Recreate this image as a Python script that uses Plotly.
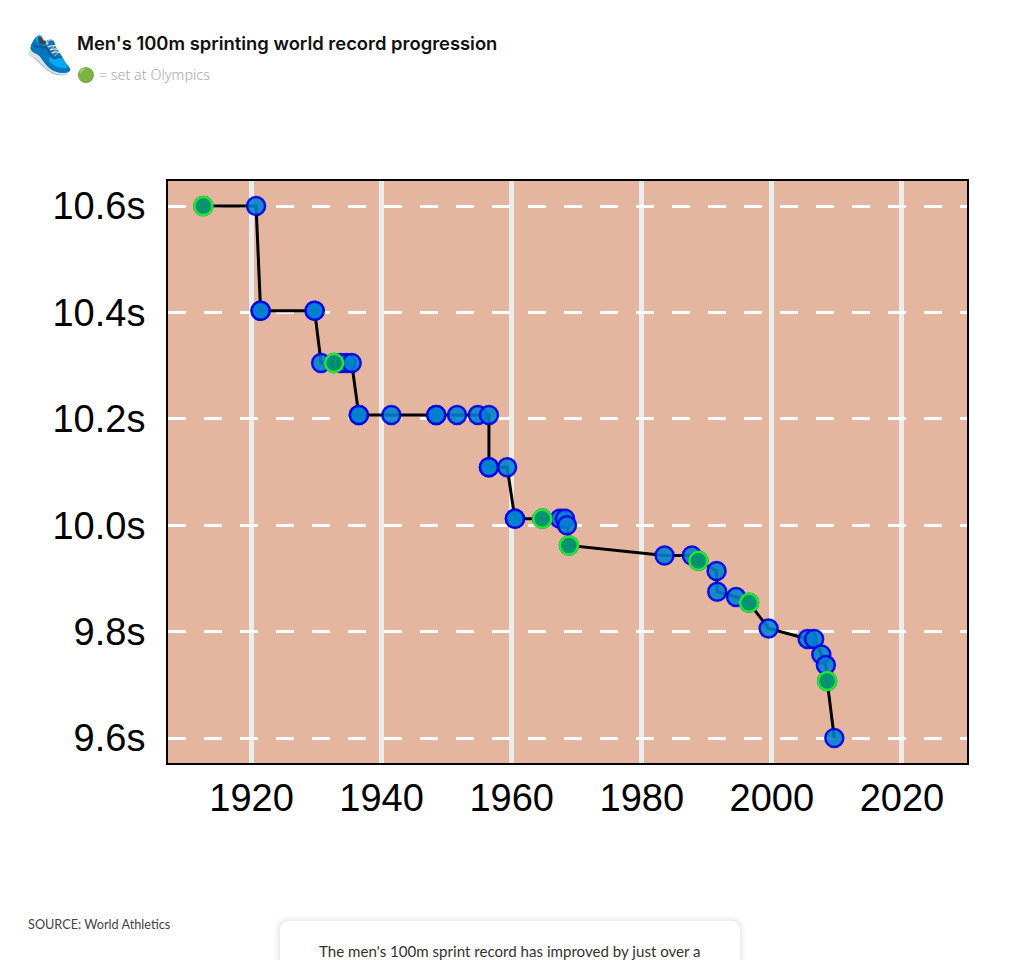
import plotly.graph_objects as go

years = [1912.6, 1920.7, 1921.4, 1921.4, 1929.7, 1929.7, 1930.7, 1932.7, 1933.7, 1934.6, 1935.4, 1936.5, 1936.5, 1941.5,
         1948.4, 1948.4, 1951.6, 1954.8, 1956.5, 1956.5, 1956.5, 1959.3, 1960.5, 1960.5, 1964.7, 1967.4, 1968.2, 1968.5,
         1968.8, 1983.5, 1987.7, 1988.7, 1991.5, 1991.6, 1994.5, 1996.5, 1999.5, 2005.5, 2006.5,
         2007.6, 2008.3, 2008.5, 2009.6]
times = [10.6, 10.6, 10.403, 10.403, 10.403, 10.403, 10.305, 10.305, 10.305, 10.305, 10.305, 10.207, 10.207, 10.207,
         10.207, 10.207, 10.207, 10.207, 10.207, 10.109, 10.109, 10.109, 10.012, 10.012, 10.012, 10.012, 10.012, 10.0,
         9.962, 9.943, 9.943, 9.933, 9.914, 9.875, 9.865, 9.854, 9.806, 9.786, 9.786,
         9.757, 9.737, 9.707, 9.6]
olympic_years = [1912.6, 1932.7, 1964.7, 1968.8, 1988.7, 1996.5, 2008.5]
x_ticks = [1920, 1940, 1960, 1980, 2000, 2020]
y_ticks = [9.6, 9.8, 10.0, 10.2, 10.4, 10.6]
y_labels = ["9.6s", "9.8s", "10.0s", "10.2s", "10.4s", "10.6s"]

olympic_x = [y for y in years if y in olympic_years]
olympic_y = [t for y, t in zip(years, times) if y in olympic_years]

L, R, T, B = 168, 967, 181, 763


def px(x):
    return (x - L) / (R - L)


def py(y):
    return (B - y) / (B - T)


def rounded(x0, y0, x1, y1, r):
    return (f"M {px(x0 + r)} {py(y0)} L {px(x1 - r)} {py(y0)} "
            f"Q {px(x1)} {py(y0)} {px(x1)} {py(y0 + r)} L {px(x1)} {py(y1 - r)} "
            f"Q {px(x1)} {py(y1)} {px(x1 - r)} {py(y1)} L {px(x0 + r)} {py(y1)} "
            f"Q {px(x0)} {py(y1)} {px(x0)} {py(y1 - r)} L {px(x0)} {py(y0 + r)} "
            f"Q {px(x0)} {py(y0)} {px(x0 + r)} {py(y0)} Z")


fig = go.Figure()
fig.add_trace(go.Scatter(
    x=years, y=times, mode="lines+markers", cliponaxis=False, hoverinfo="skip",
    line=dict(color="#000000", width=3),
    marker=dict(size=18, color="rgba(0,128,208,0.88)", line=dict(color="rgba(0,0,230,0.9)", width=2.5)),
))
fig.add_trace(go.Scatter(
    x=olympic_x, y=olympic_y, mode="markers", cliponaxis=False, hoverinfo="skip",
    marker=dict(size=18, color="rgba(5,150,100,0.88)", line=dict(color="#20ea2a", width=2.5)),
))

shapes = []
for grow, alpha in [(6, 0.015), (4, 0.02), (2, 0.03)]:
    shapes.append(dict(type="path", xref="paper", yref="paper", layer="above",
                       path=rounded(280 - grow, 921 - grow, 740 + grow, 1000, 10 + grow),
                       fillcolor=f"rgba(0,0,0,{alpha})", line=dict(width=0)))
shapes.append(dict(type="path", xref="paper", yref="paper", layer="above",
                   path=rounded(280, 921, 740, 1000, 10),
                   fillcolor="#ffffff", line=dict(width=0)))


def note(text, x, y, size, color, family, weight=None, anchor="left", angle=0):
    return dict(text=text, x=px(x), y=py(y), xref="paper", yref="paper", showarrow=False,
                xanchor=anchor, yanchor="middle", align="left", textangle=angle,
                font=dict(size=size, color=color, family=family, weight=weight))


annotations = [
    note("👟", 55, 50, 42, "#000000", "Noto Color Emoji, Noto Sans", anchor="center", angle=25),
    note("Men's 100m sprinting world record progression", 75, 43, 18.4, "#111111", "Inter", 600),
    note("🟢 = set at Olympics", 75, 75, 14.4, "#a8a8a8", "Noto Sans", 300),
    note("SOURCE: World Athletics", 26, 924, 12.7, "#444444", "Lato"),
    note("The men's 100m sprint record has improved by just over a", 510, 951, 15.1, "#333333",
         "Lato", anchor="center"),
]

fig.update_layout(
    width=1020, height=960, showlegend=False,
    margin=dict(l=L, r=1020 - R, t=T, b=960 - B),
    paper_bgcolor="#ffffff", plot_bgcolor="#e5b69f",
    shapes=shapes, annotations=annotations,
    xaxis=dict(range=[1907.16, 2030.0], tickmode="array", tickvals=x_ticks, ticks="",
               showgrid=True, gridcolor="#ececec", gridwidth=4.5, zeroline=False,
               showline=True, linecolor="#000000", linewidth=2, mirror=True,
               tickfont=dict(family="Liberation Sans", size=38, color="#000000")),
    yaxis=dict(range=[9.553, 10.647], tickmode="array", tickvals=y_ticks, ticktext=y_labels, ticks="",
               ticklabelstandoff=13,
               showgrid=True, gridcolor="#ffffff", gridwidth=3, griddash="18px,18px", zeroline=False,
               showline=True, linecolor="#000000", linewidth=2, mirror=True,
               tickfont=dict(family="Liberation Sans", size=38, color="#000000")),
)

fig.write_html("out.html", config={"displayModeBar": False},
               post_script="document.body.style.margin='0';document.body.style.overflow='hidden';")
